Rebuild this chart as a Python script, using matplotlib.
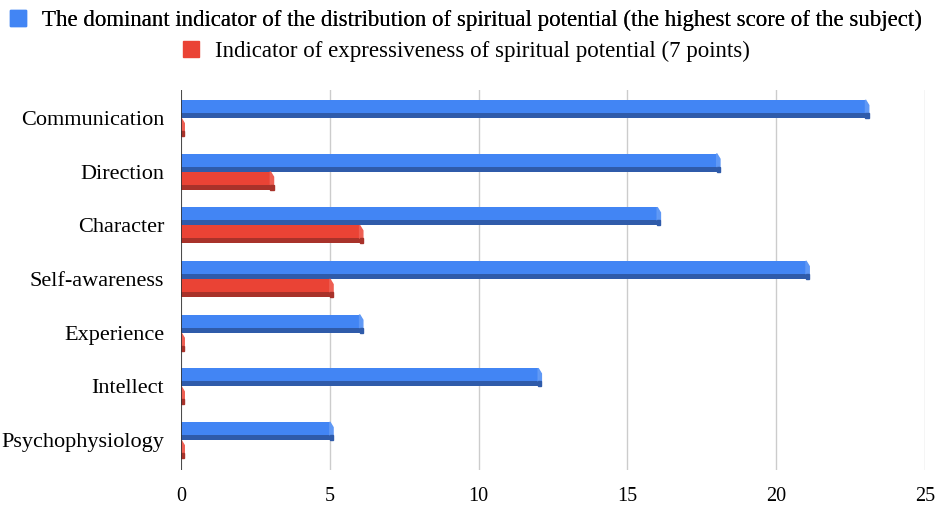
import numpy as np
import matplotlib.pyplot as plt
from matplotlib.patches import Polygon, Patch

categories = ["Communication", "Direction", "Character", "Self-awareness",
              "Experience", "Intellect", "Psychophysiology"]
dominant = [23, 18, 16, 21, 6, 12, 5]
expressiveness = [0, 3, 6, 5, 0, 0, 0]
legend_labels = ["The dominant indicator of the distribution of spiritual potential (the highest score of the subject)",
                 "Indicator of expressiveness of spiritual potential (7 points)"]

blue, blue_dk, blue_lt = "#4285F4", "#2F5BAA", "#5F98F5"
red, red_dk, red_lt = "#EA4335", "#A8322A", "#EE5E52"

plt.rcParams['font.family'] = ['Liberation Serif', 'DejaVu Serif']
fig = plt.figure(figsize=(9.38, 5.07), dpi=100)
ax = fig.add_axes([181/938, 37/507, (925-181)/938, (470-90)/507])

y = np.arange(len(categories))
h = 0.335
cap = 0.11


def bars3d(vals, offs, c, cdk, clt):
    for yi, v in zip(y, vals):
        top = yi + offs
        bot = top + h
        ax.barh(top + h/2, v, height=h, color=c, zorder=3)
        ax.barh(bot - h*0.14, v, height=h*0.28, color=cdk, zorder=3)
        ax.add_patch(Polygon([(v, top), (v + cap, top + h*0.3), (v + cap, bot - h*0.28), (v, bot - h*0.28)],
                             closed=True, color=clt, zorder=3))
        ax.add_patch(Polygon([(v, bot - h*0.28), (v + cap, bot - h*0.28), (v + cap, bot), (v, bot)],
                             closed=True, color=cdk, zorder=3))


bars3d(dominant, -h, blue, blue_dk, blue_lt)
bars3d(expressiveness, 0.0, red, red_dk, red_lt)

ax.set_xlim(0, 25)
ax.set_ylim(6.56, -0.52)
ax.set_yticks(y)
ax.set_yticklabels(categories, fontsize=16)
ax.set_xticks([0, 5, 10, 15, 20, 25])
ax.tick_params(axis='x', labelsize=14.5, length=0, pad=12)
ax.tick_params(axis='y', length=0, pad=12)
ax.grid(axis='x', color="#CCCCCC", linewidth=1, zorder=0)
for s in ax.spines.values():
    s.set_visible(False)
ax.axvline(0, color="#333333", linewidth=1.2, zorder=4)

l1 = fig.legend(handles=[Patch(color=blue)], labels=[legend_labels[0]], loc='center',
                bbox_to_anchor=(0.497, 1 - 20/507), frameon=False, fontsize=16.5,
                handlelength=0.7, handleheight=0.7, handletextpad=0.7)
fig.add_artist(l1)
fig.legend(handles=[Patch(color=red)], labels=[legend_labels[1]], loc='center',
           bbox_to_anchor=(0.497, 1 - 51/507), frameon=False, fontsize=16.5,
           handlelength=0.7, handleheight=0.7, handletextpad=0.7)

fig.savefig("out.png", dpi=100)
